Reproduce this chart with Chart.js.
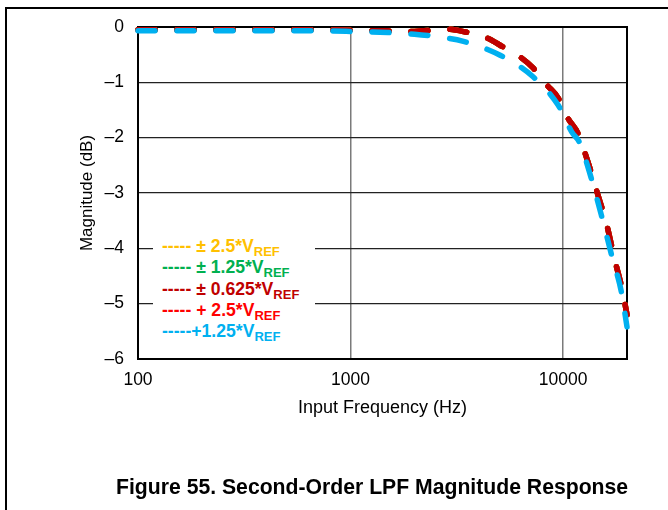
<!DOCTYPE html>
<html>
<head>
<meta charset="utf-8">
<script src="https://cdn.jsdelivr.net/npm/chart.js@4/dist/chart.umd.min.js"></script>
<style>
  html, body { margin: 0; padding: 0; background: #fff; }
  #wrap { position: relative; width: 668px; height: 510px; overflow: hidden; font-family: Arial, "Liberation Sans", sans-serif; }
  #frame { position: absolute; left: 5px; top: 7px; width: 700px; height: 600px; border-top: 2px solid #000; border-left: 2px solid #000; }
  canvas { position: absolute; left: 0; top: 0; }
  #legend { position: absolute; left: 153px; top: 236px; width: 162px; height: 110px; background: #fff; font-weight: bold; font-size: 17.6px; line-height: 21.3px; padding-top: 0px; box-sizing: border-box; padding-left: 9px; }
  #legend div { white-space: nowrap; height: 21.3px; }
  #legend sub { font-size: 13px; position: relative; top: 4px; vertical-align: baseline; line-height: 0; }
  #caption { position: absolute; left: 116px; top: 475px; font-weight: bold; font-size: 21.2px; white-space: nowrap; }
</style>
</head>
<body>
<div id="wrap">
  <div id="frame"></div>
  <canvas id="c" width="668" height="510"></canvas>
  <div id="legend"></div>
  <div id="caption">Figure 55. Second-Order LPF Magnitude Response</div>
</div>
<script>
// ---- data ----
const seriesNames = ["\u00b1 2.5*V", "\u00b1 1.25*V", "\u00b1 0.625*V", "+ 2.5*V", "+1.25*V"];
const seriesColors = ["#FFC000", "#00B050", "#C00000", "#FF0000", "#00B0F0"];
const legendPrefix = ["----- ", "----- ", "----- ", "----- ", "-----"];

const freqBipolar = [100, 150, 200, 300, 500, 700, 1000, 1500, 2000, 2850, 3470, 4400, 5060, 6280, 7230, 8410, 9480, 10550, 11750, 13000, 14500, 16000, 17500, 19000, 20000];
const magBipolar  = [-0.05, -0.05, -0.05, -0.05, -0.05, -0.05, -0.06, -0.07, -0.08, -0.04, -0.09, -0.20, -0.33, -0.54, -0.74, -1.05, -1.28, -1.65, -1.92, -2.40, -3.00, -3.55, -4.20, -4.75, -5.20];

const freqUnipolar = [100, 150, 200, 300, 500, 700, 1000, 1500, 2000, 2600, 3400, 5060, 7230, 9480, 11000, 12000, 13500, 15200, 17000, 18800, 20000];
const magUnipolar  = [-0.07, -0.07, -0.07, -0.07, -0.07, -0.07, -0.08, -0.10, -0.13, -0.18, -0.26, -0.51, -0.90, -1.41, -1.90, -2.10, -2.70, -3.42, -4.15, -4.78, -5.42];

const xTicks = [100, 1000, 10000];
const yTickLabels = ["\u20136", "\u20135", "\u20134", "\u20133", "\u20132", "\u20131", "0"];

function pts(fs, ms) { return fs.map((f, i) => ({ x: f, y: ms[i] })); }

const dataSets = [
  pts(freqBipolar, magBipolar),
  pts(freqBipolar, magBipolar),
  pts(freqBipolar, magBipolar),
  pts(freqBipolar, magBipolar),
  pts(freqUnipolar, magUnipolar)
];
const drawOrder = [5, 4, 2, 3, 1];

// legend (HTML text)
const leg = document.getElementById('legend');
seriesNames.forEach((n, i) => {
  const d = document.createElement('div');
  d.style.color = seriesColors[i];
  d.innerHTML = legendPrefix[i] + n + '<sub>REF</sub>';
  leg.appendChild(d);
});

const framePlugin = {
  id: 'frame',
  beforeDatasetsDraw(chart) {
    const a = chart.chartArea, ctx = chart.ctx;
    ctx.save();
    ctx.strokeStyle = '#000';
    ctx.lineWidth = 2;
    ctx.strokeRect(a.left, a.top, a.right - a.left, a.bottom - a.top);
    ctx.restore();
  }
};

const fam = 'Arial, "Liberation Sans", sans-serif';

new Chart(document.getElementById('c'), {
  type: 'line',
  data: {
    datasets: dataSets.map((d, i) => ({
      label: seriesNames[i],
      data: d,
      borderColor: seriesColors[i],
      backgroundColor: seriesColors[i],
      borderWidth: 5.5,
      borderDash: [17, 22],
      borderCapStyle: 'round',
      pointRadius: 0,
      cubicInterpolationMode: 'monotone',
      fill: false,
      order: drawOrder[i],
      clip: 6
    }))
  },
  options: {
    responsive: false,
    animation: false,
    events: [],
    layout: { padding: { top: 27, left: 76, right: 41, bottom: 87 } },
    plugins: { legend: { display: false }, tooltip: { enabled: false } },
    scales: {
      x: {
        type: 'logarithmic',
        min: 100, max: 20000,
        afterBuildTicks(s) { s.ticks = xTicks.map(v => ({ value: v })); },
        afterFit(s) { s.height = 64; },
        ticks: {
          autoSkip: false, maxRotation: 0,
          color: '#000', font: { family: fam, size: 17.5 },
          padding: 11,
          callback: (v) => String(v)
        },
        grid: { color: '#7a7a7a', lineWidth: 1.5, drawTicks: false },
        border: { display: false },
        title: { display: true, text: 'Input Frequency (Hz)', color: '#000', font: { family: fam, size: 18 }, padding: { top: 4, bottom: 4 } }
      },
      y: {
        min: -6, max: 0,
        afterFit(s) { s.width = 62; },
        ticks: {
          stepSize: 1, color: '#000', font: { family: fam, size: 17.5 },
          padding: 14,
          callback: (v) => yTickLabels[v + 6]
        },
        grid: { color: '#222', lineWidth: 1.2, drawTicks: false },
        border: { display: false },
        title: { display: true, text: 'Magnitude (dB)', color: '#000', font: { family: fam, size: 17 }, padding: { top: 1, bottom: 1 } }
      }
    }
  },
  plugins: [framePlugin]
});
</script>
</body>
</html>
